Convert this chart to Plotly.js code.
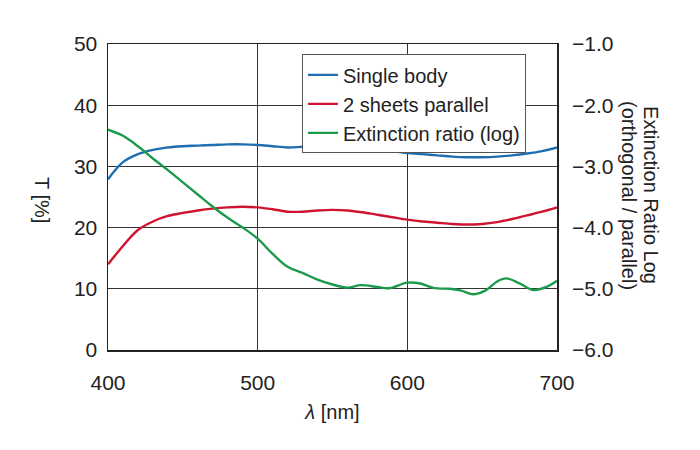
<!DOCTYPE html>
<html>
<head>
<meta charset="utf-8">
<script src="https://cdn.plot.ly/plotly-3.0.1.min.js"></script>
<style>html,body{margin:0;padding:0;background:#fff;}#chart{width:700px;height:450px;}</style>
</head>
<body>
<div id="chart"></div>
<script>
// Wavelengths (nm) for transmittance curves
const wavelengthT = [400,410,420,430,440,450,460,470,480,490,500,510,520,530,540,550,560,570,580,590,600,610,620,630,640,650,660,670,680,690,700];
// Single body transmittance [%]
const singleBody = [27.9,30.7,32.0,32.7,33.1,33.3,33.4,33.5,33.6,33.6,33.5,33.3,33.1,33.2,33.3,33.4,33.4,33.1,32.8,32.5,32.2,32.0,31.8,31.6,31.5,31.5,31.6,31.8,32.1,32.5,33.1];
// 2 sheets parallel transmittance [%]
const twoSheets = [14.0,17.0,19.6,21.0,21.9,22.4,22.8,23.1,23.3,23.4,23.3,23.0,22.6,22.6,22.8,22.9,22.8,22.5,22.1,21.7,21.3,21.0,20.8,20.6,20.5,20.6,20.9,21.4,22.0,22.6,23.3];
// Wavelengths (nm) for extinction ratio
const wavelengthE = [400,410,420,430,440,450,460,470,480,490,500,510,520,530,540,550,560,569,580,588,600,608,618,628,636,644,652,660,666,675,684,693,700];
// Extinction ratio (log)
const extinction = [-2.40,-2.50,-2.67,-2.87,-3.06,-3.26,-3.46,-3.66,-3.84,-4.00,-4.18,-4.43,-4.64,-4.74,-4.85,-4.93,-4.98,-4.94,-4.97,-4.99,-4.90,-4.91,-4.99,-5.00,-5.03,-5.09,-5.03,-4.88,-4.83,-4.91,-5.02,-4.97,-4.87];

const seriesNames = ['Single body','2 sheets parallel','Extinction ratio (log)'];
const colors = ['#1f6eb0','#cf1430','#1c9a4c'];

const font = 'Liberation Sans, Arial, sans-serif';

const traces = [
  {x: wavelengthT, y: singleBody, name: seriesNames[0], type: 'scatter', mode: 'lines',
   line: {color: colors[0], width: 2.4, shape: 'spline', smoothing: 1}},
  {x: wavelengthT, y: twoSheets, name: seriesNames[1], type: 'scatter', mode: 'lines',
   line: {color: colors[1], width: 2.4, shape: 'spline', smoothing: 1}},
  {x: wavelengthE, y: extinction, name: seriesNames[2], type: 'scatter', mode: 'lines', yaxis: 'y2',
   line: {color: colors[2], width: 2.4, shape: 'spline', smoothing: 1}}
];

const layout = {
  width: 700, height: 450,
  margin: {l: 108, r: 143, t: 44, b: 100},
  paper_bgcolor: '#fff', plot_bgcolor: '#fff',
  font: {family: font, size: 21, color: '#222'},
  showlegend: true,
  legend: {x: 0.432, y: 0.966, xanchor: 'left', yanchor: 'top',
           bgcolor: '#fff', bordercolor: '#555', borderwidth: 1,
           font: {family: font, size: 20, color: '#222'}, tracegroupgap: 0},
  xaxis: {range: [400, 700], dtick: 100, tick0: 400, showgrid: true, gridcolor: '#333', gridwidth: 1,
          showline: true, mirror: true, linecolor: '#222', linewidth: 1.5, zeroline: false,
          ticks: '', ticklabelstandoff: 13,
          title: {text: '<i>λ</i> [nm]', font: {family: font, size: 20}, standoff: 12}},
  yaxis: {range: [0, 50], dtick: 10, showgrid: true, gridcolor: '#333', gridwidth: 1,
          showline: true, mirror: true, linecolor: '#222', linewidth: 1.5, zeroline: false,
          ticks: '', ticklabelstandoff: 5},
  yaxis2: {range: [-6, -1], dtick: 1, tick0: -6, tickformat: '.1f', overlaying: 'y', side: 'right',
           showgrid: false, zeroline: false, showline: false, ticks: '', ticklabelstandoff: 14},
  annotations: [
    {text: 'T [%]', xref: 'paper', yref: 'paper', x: -0.147, y: 0.49, textangle: 90,
     showarrow: false, xanchor: 'center', yanchor: 'middle', font: {family: font, size: 20, color: '#222'}},
    {text: 'Extinction Ratio Log', xref: 'paper', yref: 'paper', x: 1.208, y: 0.505,
     textangle: 90, showarrow: false, xanchor: 'center', yanchor: 'middle',
     font: {family: font, size: 20, color: '#222'}},
    {text: '(orthogonal / parallel)', xref: 'paper', yref: 'paper', x: 1.159, y: 0.505,
     textangle: 90, showarrow: false, xanchor: 'center', yanchor: 'middle',
     font: {family: font, size: 20, color: '#222'}}
  ]
};

Plotly.newPlot('chart', traces, layout, {staticPlot: true, displayModeBar: false});
</script>
</body>
</html>
